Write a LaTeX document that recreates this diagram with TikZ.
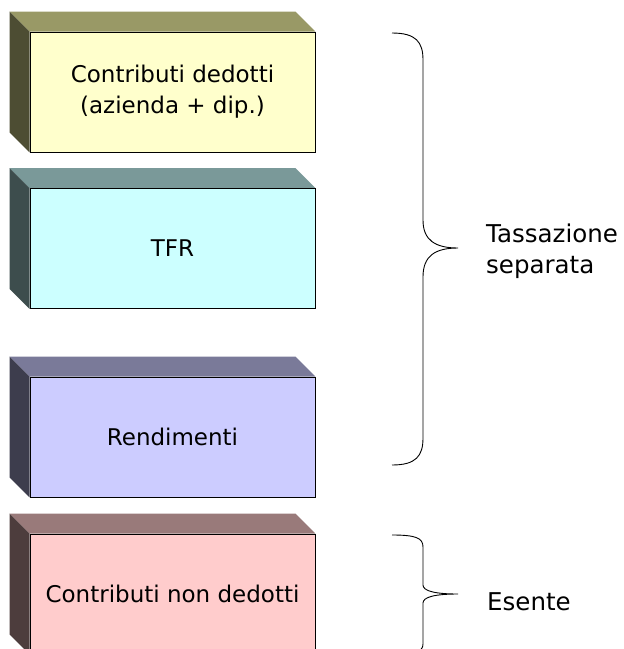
\documentclass[tikz,border=0pt]{standalone}
\usepackage{fontspec}
\setmainfont{DejaVu Sans}
\usetikzlibrary{backgrounds}
\definecolor{f1}{HTML}{FFFFCC}\definecolor{t1}{HTML}{999966}\definecolor{s1}{HTML}{4D4D33}
\definecolor{f2}{HTML}{CCFFFF}\definecolor{t2}{HTML}{7A9999}\definecolor{s2}{HTML}{3D4D4D}
\definecolor{f3}{HTML}{CCCCFF}\definecolor{t3}{HTML}{7A7A99}\definecolor{s3}{HTML}{3D3D4D}
\definecolor{f4}{HTML}{FFCCCC}\definecolor{t4}{HTML}{997A7A}\definecolor{s4}{HTML}{4D3D3D}
\newcommand{\lblfont}{\fontsize{23}{31}\selectfont}
\newcommand{\sidefont}{\fontsize{24.5}{31}\selectfont}
\tikzset{
  frontbox/.style={draw=black, line width=0.8pt, minimum width=285pt, minimum height=120pt,
    inner sep=0pt, align=center, font=\lblfont},
  sidelabel/.style={anchor=west, inner sep=0pt, align=left, font=\sidefont},
  bracepath/.style={draw=black, line width=0.9pt},
}
\newcommand{\solidfaces}[3]{%
  \fill[#2] (#1.north west) -- ++(-20,-20) -- ([shift={(-20,-20)}]#1.north east) -- (#1.north east) -- cycle;
  \fill[#3] (#1.north west) -- ++(-20,-20) -- ([shift={(-20,-20)}]#1.south west) -- (#1.south west) -- cycle;
}
\begin{document}
\begin{tikzpicture}[x=1pt,y=-1pt]
\useasboundingbox (0,0) rectangle (624,649);
\clip (0,0) rectangle (624,649);
\node[frontbox, fill=f1] (b1) at (172.5,92) {Contributi dedotti\\(azienda + dip.)};
\node[frontbox, fill=f2] (b2) at (172.5,248.5) {TFR};
\node[frontbox, fill=f3] (b3) at (172.5,437) {Rendimenti};
\node[frontbox, fill=f4] (b4) at (172.5,594) {Contributi non dedotti};
\begin{pgfonlayer}{background}
\fill[white] (0,0) rectangle (624,649);
\solidfaces{b1}{t1}{s1}
\solidfaces{b2}{t2}{s2}
\solidfaces{b3}{t3}{s3}
\solidfaces{b4}{t4}{s4}
\end{pgfonlayer}
% big brace
\coordinate (ba) at (392,33);
\coordinate (bt) at (458,248);
\coordinate (bb) at (392,465);
\draw[bracepath] (ba) .. controls (416,33) and (423,42) .. (423,60) -- (423,220)
  .. controls (423,240) and (435,248) .. (bt)
  .. controls (435,248) and (423,256) .. (423,277) -- (423,438)
  .. controls (423,456) and (416,465) .. (bb);
\node[sidelabel] (l1) at (486,251) {Tassazione\\separata};
% small brace
\coordinate (sa) at (392,535);
\coordinate (st) at (458,594);
\coordinate (sb) at (392,655);
\draw[bracepath] (sa) .. controls (416,535) and (423,538) .. (423,547) -- (423,585)
  .. controls (423,591) and (435,594) .. (st)
  .. controls (435,594) and (423,597) .. (423,603) -- (423,644)
  .. controls (423,651) and (416,655) .. (sb);
\node[sidelabel] (l2) at (487,602) {Esente};
\end{tikzpicture}
\end{document}
